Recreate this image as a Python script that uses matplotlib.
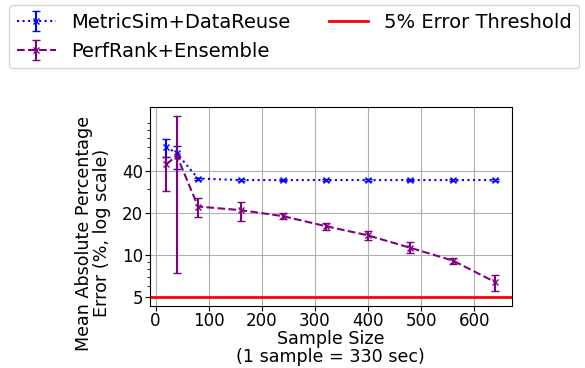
import matplotlib
matplotlib.use('Agg')
import matplotlib.pyplot as plt
from matplotlib.ticker import ScalarFormatter, NullFormatter

plt.rcParams['font.size'] = 12.6

# sample sizes
sizes = [20, 40, 80, 160, 240, 320, 400, 480, 560, 640]

# MetricSim+DataReuse
ms_mean = [60, 54, 35.6, 34.7, 34.7, 34.7, 34.7, 34.7, 34.7, 34.7]
ms_lo = [9, 12, 0.6, 0.4, 0.4, 0.4, 0.4, 0.4, 0.4, 0.4]
ms_hi = [8, 6.5, 0.6, 0.4, 0.4, 0.4, 0.4, 0.4, 0.4, 0.4]

# PerfRank+Ensemble
pr_mean = [45, 52, 22.4, 21.1, 19.1, 16.2, 13.9, 11.3, 9.15, 6.4]
pr_lo = [15.8, 44.5, 3.7, 3.4, 1.0, 1.1, 1.1, 1.0, 0.45, 0.9]
pr_hi = [6, 48, 3.6, 3.2, 0.9, 0.9, 1.1, 1.2, 0.42, 0.85]

threshold = 5

fig = plt.figure(figsize=(5.85, 3.68), dpi=100)
ax = fig.add_axes([0.256, 0.168, 0.619, 0.541])

h1 = ax.errorbar(sizes, ms_mean, yerr=[ms_lo, ms_hi], color='blue', linestyle=':',
                 marker='x', markersize=4, capsize=3, label='MetricSim+DataReuse')
h2 = ax.errorbar(sizes, pr_mean, yerr=[pr_lo, pr_hi], color='purple', linestyle='--',
                 marker='x', markersize=4, capsize=3, label='PerfRank+Ensemble')
h3 = ax.axhline(threshold, color='red', linewidth=2, label='5% Error Threshold')

ax.set_yscale('log')
ax.set_yticks([5, 10, 20, 40])
ax.yaxis.set_major_formatter(ScalarFormatter())
ax.yaxis.set_minor_formatter(NullFormatter())
ax.set_xticks([0, 100, 200, 300, 400, 500, 600])
ax.tick_params(axis='x', pad=0.5, labelsize=12)
ax.tick_params(axis='y', pad=1.5, labelsize=12)
ax.grid(True, which='major')

ax.set_xlabel('Sample Size\n(1 sample = 330 sec)', labelpad=0, linespacing=1.0)
ax.set_ylabel('Mean Absolute Percentage\nError (%, log scale)', linespacing=1.0)
ax.yaxis.set_label_coords(-0.108, 0.367)

fig.legend([h1, h2, h3], ['MetricSim+DataReuse', 'PerfRank+Ensemble', '5% Error Threshold'],
           loc='upper center', bbox_to_anchor=(0.503, 0.986), borderaxespad=0,
           ncol=2, fontsize=14)

fig.savefig('out.png', dpi=100)
